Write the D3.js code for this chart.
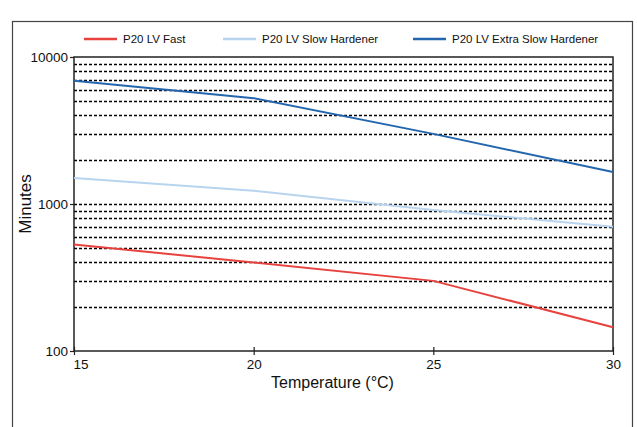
<!DOCTYPE html>
<html>
<head>
<meta charset="utf-8">
<script src="https://cdn.jsdelivr.net/npm/d3@7"></script>
<style>
  body { margin: 0; background: #fff; }
  text { font-family: "Liberation Sans", Arial, sans-serif; fill: #111; }
</style>
</head>
<body>
<svg width="637" height="427"></svg>
<script>
// data
const temperatures = [15, 20, 25, 30];
const fast = [530, 400, 300, 145];
const slowHardener = [1500, 1230, 910, 700];
const extraSlowHardener = [6900, 5250, 3000, 1650];
const seriesNames = ['P20 LV Fast', 'P20 LV Slow Hardener', 'P20 LV Extra Slow Hardener'];
const xTickLabels = [15, 20, 25, 30];
const yTickLabels = [100, 1000, 10000];

const colors = ['#e8423f', '#b9d4ee', '#2366ae'];

const svg = d3.select('svg');
const width = +svg.attr('width');
const height = +svg.attr('height');

const margin = { top: 57, left: 74, right: 24, bottom: 76 };
const innerWidth = width - margin.left - margin.right;
const innerHeight = height - margin.top - margin.bottom;

// outer frame
svg.append('rect')
    .attr('x', 12.5).attr('y', 21.5)
    .attr('width', 620).attr('height', 430)
    .attr('fill', 'none')
    .attr('stroke', '#444')
    .attr('stroke-width', 1.2);

const xScale = d3.scaleLinear()
    .domain(d3.extent(temperatures))
    .range([0, innerWidth]);

const yScale = d3.scaleLog()
    .domain([100, 10000])
    .range([innerHeight, 0]);

const g = svg.append('g')
    .attr('transform', `translate(${margin.left},${margin.top})`);

// dashed grid on the minor log values
const gridValues = yScale.ticks().filter(v => v > 100 && v < 10000);
g.selectAll('.grid')
    .data(gridValues)
    .enter().append('line')
    .attr('class', 'grid')
    .attr('x1', 0).attr('x2', innerWidth)
    .attr('y1', d => Math.round(yScale(d)) + 0.5)
    .attr('y2', d => Math.round(yScale(d)) + 0.5)
    .attr('stroke', '#000')
    .attr('stroke-width', 1.3)
    .attr('stroke-dasharray', '3,2');

const yAxisGroup = g.append('g')
    .call(d3.axisLeft(yScale)
        .tickValues(yTickLabels)
        .tickFormat(d3.format('d'))
        .tickSizeInner(4).tickSizeOuter(0).tickPadding(2));

const xAxisGroup = g.append('g')
    .attr('transform', `translate(0, ${innerHeight})`)
    .call(d3.axisBottom(xScale)
        .tickValues(xTickLabels)
        .tickSizeInner(4).tickSizeOuter(0).tickPadding(4));

yAxisGroup.selectAll('text').attr('font-size', 13.5).attr('font-family', '"Liberation Sans", Arial, sans-serif').attr('fill', '#111');
xAxisGroup.selectAll('text').attr('font-size', 13.5).attr('font-family', '"Liberation Sans", Arial, sans-serif').attr('fill', '#111');
// first x label sits just right of the corner
xAxisGroup.select('.tick:first-of-type text').attr('text-anchor', 'start').attr('x', -1);
xAxisGroup.selectAll('.tick line').attr('y1', -4).attr('stroke', '#222').attr('stroke-width', 1.2);
yAxisGroup.selectAll('.tick line').attr('stroke', '#222').attr('stroke-width', 1.2);
g.selectAll('.domain').remove();

// plot frame
g.append('rect')
    .attr('width', innerWidth)
    .attr('height', innerHeight)
    .attr('fill', 'none')
    .attr('stroke', '#222')
    .attr('stroke-width', 1.5);

const series = [fast, slowHardener, extraSlowHardener];

const line = d3.line()
    .x((d, i) => xScale(temperatures[i]))
    .y(d => yScale(d));

g.selectAll('.series')
    .data(series)
    .enter().append('path')
    .attr('class', 'series')
    .attr('d', line)
    .attr('fill', 'none')
    .attr('stroke', (d, i) => colors[i])
    .attr('stroke-width', 2);

// axis titles
g.append('text')
    .attr('x', innerWidth / 2 - 11)
    .attr('y', innerHeight + 37)
    .attr('text-anchor', 'middle')
    .attr('font-size', 16)
    .text('Temperature (°C)');

svg.append('text')
    .attr('transform', `translate(31, 204) rotate(-90)`)
    .attr('text-anchor', 'middle')
    .attr('font-size', 17)
    .text('Minutes');

// legend
const legendX = [84, 223, 413];
const legend = svg.selectAll('.legend')
    .data(seriesNames)
    .enter().append('g')
    .attr('class', 'legend')
    .attr('transform', (d, i) => `translate(${legendX[i]}, 39)`);

legend.append('line')
    .attr('x1', 0).attr('x2', 33)
    .attr('stroke', (d, i) => colors[i])
    .attr('stroke-width', 2.5);

legend.append('text')
    .attr('x', 39)
    .attr('y', 4)
    .attr('font-size', 11.5)
    .text(d => d);
</script>
</body>
</html>
